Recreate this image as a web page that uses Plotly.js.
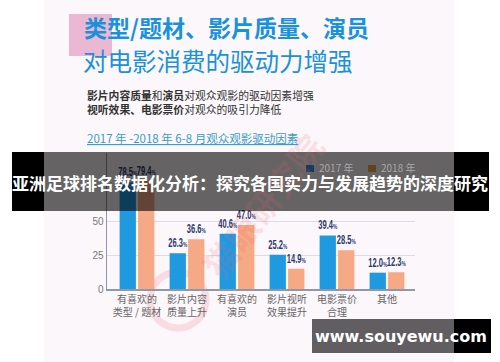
<!DOCTYPE html>
<html><head><meta charset="utf-8">
<script src="https://cdn.plot.ly/plotly-3.0.1.min.js"></script>
<style>html,body{margin:0;padding:0;background:#fff;}#chart{width:500px;height:362px;}</style>
</head><body><div id="chart"></div>
<script>
const categories = ["有喜欢的<br>类型 / 题材", "影片内容<br>质量上升", "有喜欢的<br>演员", "影片视听<br>效果提升", "电影票价<br>合理", "其他"];
const values2017 = [78.5, 26.3, 40.6, 25.2, 39.4, 12.0];
const values2018 = [79.4, 36.6, 47.0, 14.9, 28.5, 12.3];
const seriesNames = ["2017 年", "2018 年"];
const seriesColors = ['#1f99e0', '#f5a985'];
const legendSwatch = ['#239be0', '#f2a84c'];
const yTicks = [0, 25, 50];

const W = 500, H = 362;
const px = x => x / W;
const py = y => 1 - y / H;
const cjk = '"Noto Sans CJK SC", "Noto Sans", sans-serif';
const labelFont = '"Liberation Sans", Arial, sans-serif';

const labelTpl = '%{y:.1f}<span style="font-size:8px">%</span>';
const traces = [values2017, values2018].map((vals, i) => ({
  type: 'bar', name: seriesNames[i], x: categories, y: vals,
  marker: {color: seriesColors[i]}, texttemplate: labelTpl, textposition: 'outside',
  constraintext: 'none', cliponaxis: false,
  textfont: {family: labelFont, size: 12.5, color: '#2c3a6e', weight: 700}, hoverinfo: 'none'
}));

const rect = (x0, y0, x1, y1, color, layer) => ({type: 'rect', xref: 'paper', yref: 'paper',
  x0: px(x0), x1: px(x1), y0: py(y1), y1: py(y0), fillcolor: color, line: {width: 0}, layer: layer});

const shapes = [
  rect(44, 0, 454, 362, '#fcf7fb', 'below'),
  rect(69, 14, 112, 56, '#ebb8d4', 'below'),
  {type: 'circle', xref: 'paper', yref: 'paper', x0: px(150), x1: px(206), y0: py(328), y1: py(272),
   line: {color: 'rgba(236,96,110,0.18)', width: 7}, fillcolor: 'rgba(0,0,0,0)', layer: 'below'},
  rect(306, 165, 314, 172, legendSwatch[0], 'below'),
  rect(368, 165, 376, 172, legendSwatch[1], 'below'),
  rect(12, 152, 44, 211, '#000', 'above'),
  rect(454, 152, 489, 211, '#000', 'above'),
  rect(44, 152, 454, 211, 'rgba(0,0,0,0.6)', 'above'),
  rect(454, 319, 491, 353, '#000', 'above'),
  rect(312, 319, 454, 353, 'rgba(0,0,0,0.62)', 'above')
];

const ann = (x, y, text, opts) => Object.assign({xref: 'paper', yref: 'paper', x: px(x), y: py(y),
  text: text, showarrow: false, xanchor: 'left', yanchor: 'middle'}, opts);

const annotations = [
  ann(262, 205, '猫眼研究院', {xanchor: 'center', textangle: -52,
    font: {family: cjk, size: 34, color: 'rgba(236,96,110,0.16)', weight: 700}}),
  ann(82, 27, '类型/题材、影片质量、演员', {font: {family: cjk, size: 23, color: '#1a92da', weight: 700}}),
  ann(81, 61, '对电影消费的驱动力增强', {font: {family: cjk, size: 24.5, color: '#1a92da'}}),
  ann(85, 95, '<b>影片内容质量</b>和<b>演员</b>对观众观影的驱动因素增强', {font: {family: cjk, size: 10.8, color: '#333'}}),
  ann(85, 109, '<b>视听效果、电影票价</b>对观众的吸引力降低', {font: {family: cjk, size: 10.8, color: '#333'}}),
  ann(85, 138, '<span style="text-decoration:underline">2017 年 -2018 年 6-8 月观众观影驱动因素</span>', {font: {family: cjk, size: 11.5, color: '#3a9cc8'}}),
  ann(317, 168, seriesNames[0], {font: {family: cjk, size: 10, color: '#a9a9a9'}}),
  ann(379, 168, seriesNames[1], {font: {family: cjk, size: 10, color: '#a9a9a9'}}),
  ann(250, 182, '亚洲足球排名数据化分析：探究各国实力与发展趋势的深度研究', {xanchor: 'center',
    font: {family: cjk, size: 17, color: '#fff', weight: 700}}),
  ann(401, 336, 'www.souyewu.com', {xanchor: 'center',
    font: {family: '"DejaVu Sans", sans-serif', size: 16, color: '#fff', weight: 700}})
];

const layout = {
  width: W, height: H, margin: {l: 0, r: 0, t: 0, b: 0},
  paper_bgcolor: '#ffffff', plot_bgcolor: 'rgba(0,0,0,0)',
  barmode: 'group', bargap: 0.26, bargroupgap: 0.12,
  showlegend: false,
  xaxis: {domain: [px(107), px(415)], range: [-0.6, 5.56], type: 'category',
    showline: true, linecolor: '#8d98aa', linewidth: 1.5, showgrid: false, ticks: '',
    tickfont: {family: cjk, size: 10, color: '#666'}, fixedrange: true},
  yaxis: {domain: [py(289), py(153)], range: [0, 100], tickvals: yTicks, ticksuffix: '%',
    showline: true, linecolor: '#8d98aa', linewidth: 1.5, showgrid: true, gridcolor: '#dcdde3', gridwidth: 1,
    zeroline: false, ticks: '', tickfont: {family: '"Liberation Sans", sans-serif', size: 10, color: '#777'}, fixedrange: true},
  shapes: shapes, annotations: annotations
};

Plotly.newPlot('chart', traces, layout, {displayModeBar: false, staticPlot: true}).then(gd => {
  // condense the value labels, like the narrow face in the reference
  gd.querySelectorAll('text.bartext').forEach(t => {
    t.setAttribute('textLength', '19');
    t.setAttribute('lengthAdjust', 'spacingAndGlyphs');
  });
});
</script></body></html>
